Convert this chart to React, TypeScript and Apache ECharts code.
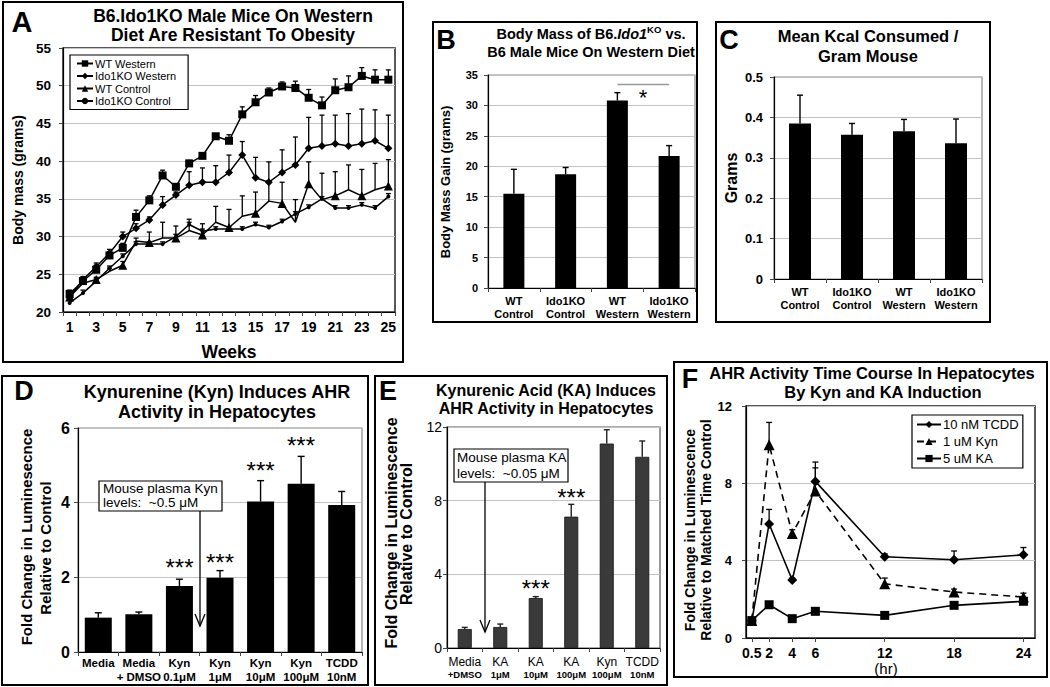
import React, { useEffect, useRef } from "react";
import * as echarts from "echarts";

const FONT = 'Arial, "Liberation Sans", Helvetica, sans-serif';

// ---------------- Panel A data ----------------
const weeks = ["1","2","3","4","5","6","7","8","9","10","11","12","13","14","15","16","17","18","19","20","21","22","23","24","25"];
const wtWestern = [22.4,24.1,25.6,27.5,28.5,32.6,34.8,38.1,36.6,39.7,40.7,43.3,42.7,46.2,47.8,49.1,49.9,49.7,48.4,47.4,49.4,49.8,51.3,50.8,50.8];
const wtWesternErr = [0.5,0.5,0.6,0.5,0.6,0.9,0.6,0.7,0.4,0.4,0.4,0.3,0.8,1.0,0.9,0.6,0.6,0.9,1.1,1.1,1.5,1.5,1.1,1.3,1.3];
const ido1Western = [21.9,24.3,26.0,27.8,30.0,31.1,32.2,34.2,35.5,36.8,37.2,37.2,38.5,40.8,37.8,37.2,38.5,39.5,41.7,42.0,42.3,42.0,42.3,42.7,41.7];
const ido1WesternErr = [0.3,0.4,0.5,0.5,0.6,0.6,0.4,1.1,0.4,1.8,1.9,2.2,2.3,1.8,2.7,2.7,3.0,3.7,4.1,4.1,3.8,4.3,4.6,4.1,4.4];
const wtControl = [22.0,23.8,24.3,25.4,26.2,29.4,29.2,29.8,29.8,30.8,30.2,31.9,31.2,32.7,33.1,34.7,34.4,31.9,37.0,34.9,35.4,36.2,35.4,36.2,36.7];
const wtControlErr = [0.3,0.3,0.3,0.4,0.5,0.4,1.4,2.1,1.6,1.5,1.5,2.1,2.4,2.7,2.8,2.7,2.8,3.0,2.9,3.5,3.2,3.3,3.5,3.5,3.5];
const ido1Control = [21.2,22.5,24.1,25.8,27.4,29.0,29.0,29.0,30.0,31.6,30.7,31.0,31.0,31.0,31.6,31.2,32.0,33.0,33.9,35.0,33.8,33.8,34.2,33.8,35.3];
const ido1ControlErr = [0.3,0.4,0.3,0.3,0.3,0.3,0.3,0.3,0.3,0.3,0.3,0.3,0.3,0.3,0.3,0.3,0.3,0.3,0.3,0.3,0.3,0.3,0.3,0.3,0.4];

// ---------------- Panel B data ----------------
const bCategories = ["WT\nControl","Ido1KO\nControl","WT\nWestern","Ido1KO\nWestern"];
const bValues = [15.5,18.7,30.8,21.7];
const bErr = [4.0,1.1,1.3,1.7];
const bSigLevel = 33.5;

// ---------------- Panel C data ----------------
const cCategories = ["WT\nControl","Ido1KO\nControl","WT\nWestern","Ido1KO\nWestern"];
const cValues = [0.385,0.357,0.366,0.336];
const cErr = [0.07,0.028,0.029,0.06];

// ---------------- Panel D data ----------------
const dCategories = ["Media","Media\n+ DMSO","Kyn\n0.1μM","Kyn\n1μM","Kyn\n10μM","Kyn\n100μM","TCDD\n10nM"];
const dValues = [0.92,1.01,1.77,1.99,4.03,4.51,3.94];
const dErr = [0.13,0.06,0.18,0.19,0.56,0.73,0.36];

// ---------------- Panel E data ----------------
const eCategories = ["Media\n+DMSO","KA\n1μM","KA\n10μM","KA\n100μM","Kyn\n100μM","TCDD\n10nM"];
const eValues = [1.03,1.14,2.71,7.13,11.1,10.38];
const eErr = [0.09,0.16,0.08,0.67,0.75,0.86];

// ---------------- Panel F data ----------------
const fHours = [0.5,2,4,6,12,18,24];
const fTicks = [0.5,2,4,6,12,18,24];
const tcdd = [0.89,5.9,3.0,8.1,4.2,4.05,4.3];
const tcddErr = [0.1,0.75,0.1,1.0,0.15,0.45,0.38];
const kyn = [0.9,10.0,5.4,7.6,2.8,2.38,2.12];
const kynErr = [0.1,1.15,0.2,1.2,0.3,0.15,0.2];
const ka = [0.9,1.72,1.0,1.38,1.17,1.69,1.9];
const kaErr = [0.05,0.1,0.05,0.05,0.05,0.1,0.1];

function errBars(axis: number, data: number[][], color: string, cap: number, lw: number, z = 2) {
  return {
    type: "custom",
    xAxisIndex: axis,
    yAxisIndex: axis,
    z,
    silent: true,
    data,
    renderItem: (params: any, api: any) => {
      const x = api.value(0);
      const y = api.value(1);
      const e = api.value(2);
      const p0 = api.coord([x, y]);
      const p1 = api.coord([x, y + e]);
      return {
        type: "group",
        children: [
          { type: "line", shape: { x1: p0[0], y1: p0[1], x2: p1[0], y2: p1[1] }, style: { stroke: color, lineWidth: lw } },
          { type: "line", shape: { x1: p1[0] - cap, y1: p1[1], x2: p1[0] + cap, y2: p1[1] }, style: { stroke: color, lineWidth: lw } },
        ],
      };
    },
  };
}

const idx = (vals: number[], errs: number[]) => vals.map((v, i) => [i, v, errs[i]]);
const xy = (xs: number[], vals: number[], errs: number[]) => vals.map((v, i) => [xs[i], v, errs[i]]);

function txt(x: number, y: number, text: string, size: number, bold = true, extra: any = {}) {
  return {
    type: "text",
    x,
    y,
    z: 50,
    style: {
      text,
      fontSize: size,
      fontWeight: bold ? "bold" : "normal",
      fontFamily: FONT,
      fill: "#000",
      align: "center",
      verticalAlign: "middle",
      ...extra,
    },
  };
}
function vtxt(x: number, y: number, text: string, size: number) {
  return { ...txt(x, y, text, size, true), rotation: Math.PI / 2 };
}
function box(x: number, y: number, w: number, h: number, lw = 2) {
  return { type: "rect", z: 40, shape: { x, y, width: w, height: h }, style: { fill: "none", stroke: "#000", lineWidth: lw } };
}
function arrow(x: number, y1: number, y2: number) {
  return [
    { type: "line", z: 45, shape: { x1: x, y1, x2: x, y2 }, style: { stroke: "#000", lineWidth: 1.3 } },
    { type: "polyline", z: 45, shape: { points: [[x - 5, y2 - 12], [x, y2], [x + 5, y2 - 12]] }, style: { stroke: "#000", lineWidth: 1.3, fill: "none" } },
  ];
}

const black = { show: true, lineStyle: { color: "#000", width: 1.2 } };
const gridLine = { show: true, lineStyle: { color: "#c2c2c2", width: 1.2 } };
const tick = { show: true, length: 4, lineStyle: { color: "#444" } };

function catAxis(grid: number, data: string[], label: any) {
  return {
    type: "category",
    gridIndex: grid,
    data,
    boundaryGap: true,
    axisLine: black,
    axisTick: { ...tick, interval: 0 },
    splitLine: { show: false },
    axisLabel: { interval: 0, color: "#000", fontFamily: FONT, ...label },
  };
}
function valAxis(grid: number, min: number, max: number, interval: number, label: any) {
  return {
    type: "value",
    gridIndex: grid,
    min,
    max,
    interval,
    axisLine: black,
    axisTick: tick,
    splitLine: gridLine,
    axisLabel: { color: "#000", fontFamily: FONT, ...label },
  };
}

function buildOption() {
  const lineBase = (name: string, data: number[], symbol: string, size: number, extra: any = {}) => ({
    type: "line",
    name,
    xAxisIndex: 0,
    yAxisIndex: 0,
    data,
    symbol,
    symbolSize: size,
    z: 3,
    lineStyle: { color: "#000", width: 1.5 },
    itemStyle: { color: "#000" },
    ...extra,
  });
  const fLine = (name: string, vals: number[], symbol: string, size: number, type: any) => ({
    type: "line",
    name,
    xAxisIndex: 5,
    yAxisIndex: 5,
    data: fHours.map((h, i) => [h, vals[i]]),
    symbol,
    symbolSize: size,
    z: 3,
    lineStyle: { color: "#000", width: 1.6, type },
    itemStyle: { color: "#000" },
  });

  return {
    animation: false,
    backgroundColor: "#fff",
    textStyle: { fontFamily: FONT, color: "#000" },
    grid: [
      { left: 63, top: 48, width: 332, height: 264, show: true, borderColor: "#222", borderWidth: 1.5 },
      { left: 488, top: 75, width: 207, height: 213, show: true, borderColor: "#888", borderWidth: 1.2 },
      { left: 774, top: 77, width: 208, height: 202, show: true, borderColor: "#888", borderWidth: 1.2 },
      { left: 78, top: 428, width: 284, height: 224, show: true, borderColor: "#888", borderWidth: 1.2 },
      { left: 447, top: 427, width: 213, height: 221, show: true, borderColor: "#555", borderWidth: 1.2 },
      { left: 746, top: 406, width: 289, height: 232, show: true, borderColor: "#222", borderWidth: 1.5 },
    ],
    xAxis: [
      { ...catAxis(0, weeks, {}), axisLabel: { interval: 1, color: "#000", fontFamily: FONT, fontSize: 14, fontWeight: "bold", margin: 8 } },
      catAxis(1, bCategories, { fontSize: 11, fontWeight: "bold", lineHeight: 13, margin: 6 }),
      catAxis(2, cCategories, { fontSize: 11, fontWeight: "bold", lineHeight: 13, margin: 6 }),
      catAxis(3, dCategories, { fontSize: 11.5, fontWeight: "bold", lineHeight: 14, margin: 4 }),
      catAxis(4, eCategories, {
        margin: 7,
        formatter: (v: string) => {
          const p = v.split("\n");
          return `{a|${p[0]}}\n{b|${p[1]}}`;
        },
        rich: {
          a: { fontSize: 12, fontFamily: FONT, color: "#000", lineHeight: 13 },
          b: { fontSize: 9.5, fontWeight: "bold", fontFamily: FONT, color: "#000", lineHeight: 12 },
        },
      }),
      {
        type: "value",
        gridIndex: 5,
        min: 0,
        max: 25,
        axisLine: black,
        splitLine: { show: false },
        axisTick: { show: true, length: 4, lineStyle: { color: "#444" }, customValues: fTicks },
        axisLabel: { color: "#000", fontFamily: FONT, fontSize: 14, fontWeight: "bold", margin: 8, customValues: fTicks, formatter: (v: number) => String(v) },
      },
    ],
    yAxis: [
      valAxis(0, 20, 55, 5, { fontSize: 13.5, fontWeight: "bold", margin: 12 }),
      valAxis(1, 0, 35, 5, { fontSize: 11, fontWeight: "bold", margin: 10 }),
      valAxis(2, 0, 0.5, 0.1, { fontSize: 13, fontWeight: "bold", margin: 11, formatter: (v: number) => (v === 0 ? "0" : v.toFixed(1)) }),
      valAxis(3, 0, 6, 2, { fontSize: 16, fontWeight: "bold", margin: 8 }),
      valAxis(4, 0, 12, 4, { fontSize: 14, margin: 5 }),
      valAxis(5, 0, 12, 4, { fontSize: 13, fontWeight: "bold", margin: 14 }),
    ],
    legend: [
      {
        data: ["WT Western", "Ido1KO Western", "WT Control", "Ido1KO Control"],
        orient: "vertical",
        left: 70,
        top: 55,
        itemWidth: 16,
        itemHeight: 8,
        itemGap: 1.5,
        padding: [3, 12, 3, 6],
        borderColor: "#000",
        borderWidth: 1.2,
        backgroundColor: "#fff",
        textStyle: { fontFamily: FONT, fontSize: 11, color: "#000", padding: [0, 0, 0, -3] },
        z: 10,
      },
      {
        data: ["10 nM TCDD", "1 uM Kyn", "5 uM KA"],
        orient: "vertical",
        left: 912,
        top: 415,
        itemWidth: 24,
        itemHeight: 9,
        itemGap: 4,
        padding: [3, 4, 3, 4],
        borderColor: "#000",
        borderWidth: 1.2,
        backgroundColor: "#fff",
        textStyle: { fontFamily: FONT, fontSize: 13, color: "#000", padding: [0, 0, 0, -3] },
        z: 10,
      },
    ],
    series: [
      // Panel A
      errBars(0, idx(wtWestern, wtWesternErr), "#000", 2.5, 1.3),
      errBars(0, idx(ido1Western, ido1WesternErr), "#000", 2.5, 1.3),
      errBars(0, idx(wtControl, wtControlErr), "#000", 2.5, 1.3),
      errBars(0, idx(ido1Control, ido1ControlErr), "#000", 2.5, 1.3),
      lineBase("WT Western", wtWestern, "rect", 8),
      lineBase("Ido1KO Western", ido1Western, "diamond", 8),
      lineBase("WT Control", wtControl, "triangle", 9),
      lineBase("Ido1KO Control", ido1Control, "circle", 4),
      // Panel B
      {
        type: "bar",
        xAxisIndex: 1,
        yAxisIndex: 1,
        data: bValues,
        barWidth: 21,
        itemStyle: { color: "#000" },
        markLine: {
          silent: true,
          symbol: "none",
          label: { show: false },
          lineStyle: { color: "#999", width: 1.3, type: "solid" },
          data: [[{ coord: [2, bSigLevel] }, { coord: [3, bSigLevel] }]],
        },
      },
      errBars(1, idx(bValues, bErr), "#000", 3, 1.4),
      // Panel C
      { type: "bar", xAxisIndex: 2, yAxisIndex: 2, data: cValues, barWidth: 22, itemStyle: { color: "#000" } },
      errBars(2, idx(cValues, cErr), "#000", 3, 1.4),
      // Panel D
      { type: "bar", xAxisIndex: 3, yAxisIndex: 3, data: dValues, barWidth: 27, itemStyle: { color: "#000" } },
      errBars(3, idx(dValues, dErr), "#000", 3.5, 1.4),
      // Panel E
      { type: "bar", xAxisIndex: 4, yAxisIndex: 4, data: eValues, barWidth: 14, itemStyle: { color: "#3a3a3a", borderColor: "#111", borderWidth: 0.8 } },
      errBars(4, idx(eValues, eErr), "#222", 3, 1.4),
      // Panel F
      errBars(5, xy(fHours, tcdd, tcddErr), "#000", 3, 1.3),
      errBars(5, xy(fHours, kyn, kynErr), "#000", 3, 1.3),
      errBars(5, xy(fHours, ka, kaErr), "#000", 3, 1.3),
      fLine("10 nM TCDD", tcdd, "diamond", 10, "solid"),
      fLine("1 uM Kyn", kyn, "triangle", 11, [7, 5]),
      fLine("5 uM KA", ka, "rect", 9, "solid"),
    ],
    graphic: [
      // panel boxes
      box(3, 2, 400, 360),
      box(433, 22, 264, 300),
      box(716, 22, 274, 300),
      box(2, 376, 366, 309),
      box(375, 376, 292, 309),
      box(674, 362, 373, 315),
      // panel letters
      txt(22, 22, "A", 29, true),
      txt(446, 40, "B", 27, true),
      txt(729, 40, "C", 27, true),
      txt(24, 391, "D", 27, true),
      txt(388, 391, "E", 27, true),
      txt(690, 379, "F", 27, true),
      // Panel A texts
      txt(233, 16, "B6.Ido1KO Male Mice On Western", 17.5),
      txt(233, 35, "Diet Are Resistant To Obesity", 17.5),
      vtxt(18, 180, "Body mass (grams)", 14),
      txt(229, 352, "Weeks", 17.5),
      // Panel B texts
      {
        type: "text",
        x: 591,
        y: 34,
        z: 50,
        style: {
          text: "{n|Body Mass of B6.}{i|Ido1}{s|KO}{n| vs.}",
          align: "center",
          verticalAlign: "middle",
          rich: {
            n: { fontSize: 14.5, fontWeight: "bold", fontFamily: FONT, fill: "#000" },
            i: { fontSize: 14.5, fontWeight: "bold", fontStyle: "italic", fontFamily: FONT, fill: "#000" },
            s: { fontSize: 9.5, fontWeight: "bold", fontFamily: FONT, fill: "#000", padding: [0, 0, 9, 0] },
          },
        },
      },
      txt(591, 52, "B6 Male Mice On Western Diet", 14.5),
      vtxt(445, 182, "Body Mass Gain (grams)", 13),
      txt(643, 97, "*", 22, false),
      // Panel C texts
      txt(868, 36, "Mean Kcal Consumed /", 16.5),
      txt(868, 56, "Gram Mouse", 16.5),
      vtxt(731, 178, "Grams", 16),
      // Panel D texts
      txt(217, 392, "Kynurenine (Kyn) Induces AHR", 18),
      txt(217, 412, "Activity in Hepatocytes", 18),
      vtxt(26, 537, "Fold Change in Luminesecnce", 15),
      vtxt(45, 548, "Relative to Control", 15),
      { type: "rect", z: 44, shape: { x: 99, y: 481, width: 123, height: 30 }, style: { fill: "#fff", stroke: "#000", lineWidth: 1.2 } },
      txt(103, 488, "Mouse plasma Kyn", 13.5, false, { align: "left" }),
      txt(103, 502, "levels:  ~0.5 μM", 13.5, false, { align: "left" }),
      ...arrow(200, 511, 626),
      txt(179.5, 567, "***", 24, false),
      txt(220, 562, "***", 24, false),
      txt(260.6, 470, "***", 24, false),
      txt(301, 445, "***", 24, false),
      // Panel E texts
      txt(546, 390, "Kynurenic Acid (KA) Induces", 16),
      txt(546, 408, "AHR Activity in Hepatocytes", 16),
      vtxt(391, 533, "Fold Change in Luminescence", 16),
      vtxt(406, 534, "Relative to Control", 16),
      { type: "rect", z: 44, shape: { x: 454, y: 449, width: 114, height: 33 }, style: { fill: "#fff", stroke: "#000", lineWidth: 1.2 } },
      txt(457, 457, "Mouse plasma KA", 13.5, false, { align: "left" }),
      txt(457, 473, "levels:  ~0.05 μM", 13.5, false, { align: "left" }),
      ...arrow(485, 482, 632),
      txt(535.8, 588, "***", 24, false),
      txt(571.3, 497, "***", 24, false),
      // Panel F texts
      txt(872, 373, "AHR Activity Time Course In Hepatocytes", 16.5),
      txt(883, 392, "By Kyn and KA Induction", 16.5),
      vtxt(690, 530, "Fold Change in Luminescence", 14),
      vtxt(706, 530, "Relative to Matched Time Control", 14),
      txt(886, 668, "(hr)", 15, false),
    ],
  };
}

export default function App() {
  const ref = useRef<HTMLDivElement>(null);
  useEffect(() => {
    const chart = echarts.init(ref.current as HTMLDivElement, null, { renderer: "svg", width: 1050, height: 687 });
    chart.setOption(buildOption() as any);
    return () => chart.dispose();
  }, []);
  return (
    <div
      ref={ref}
      style={{ position: "fixed", left: 0, top: 0, width: 1050, height: 687, background: "#fff" }}
    />
  );
}
